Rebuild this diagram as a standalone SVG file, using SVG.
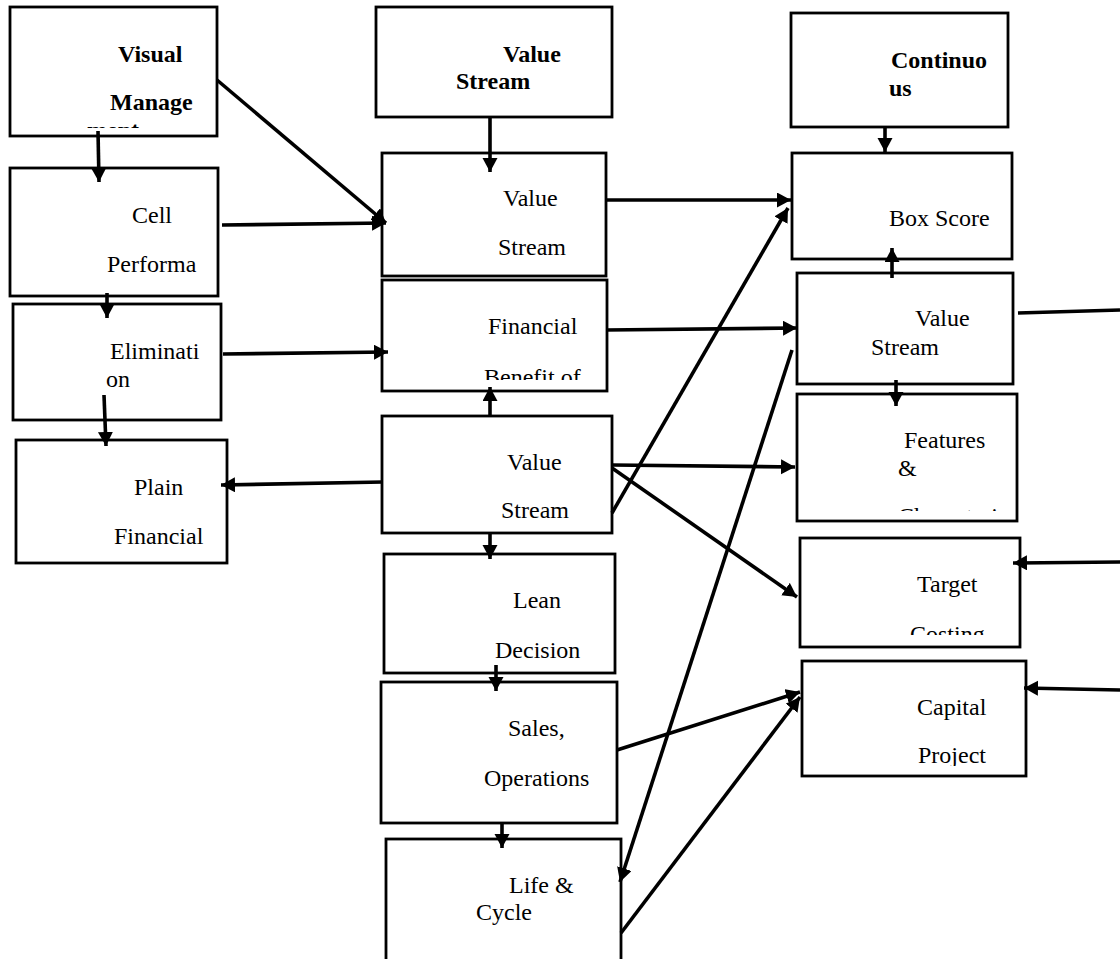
<svg xmlns="http://www.w3.org/2000/svg" width="1120" height="959" viewBox="0 0 1120 959">
<style>
.box{fill:#fff;stroke:#000;stroke-width:2.8}
.t{font-family:"Liberation Serif","Times New Roman",serif;font-size:24px;fill:#000}
.b{font-weight:bold}
.c{fill:none;stroke:#000;stroke-width:3.6}
.a{marker-end:url(#ah)}
</style>
<defs>
<marker id="ah" markerUnits="userSpaceOnUse" markerWidth="16" markerHeight="16" refX="14" refY="7.5" orient="auto">
<path d="M0,0 L14,7.5 L0,15 z" fill="#000"/>
</marker>
<clipPath id="cVM"><rect x="0" y="0" width="1120" height="128"/></clipPath>
<clipPath id="cFin"><rect x="0" y="0" width="1120" height="380"/></clipPath>
<clipPath id="cFeat"><rect x="0" y="0" width="1120" height="511"/></clipPath>
<clipPath id="cTgt"><rect x="0" y="0" width="1120" height="635"/></clipPath>
<clipPath id="cCap"><rect x="0" y="0" width="1120" height="766"/></clipPath>
</defs>
<rect width="1120" height="959" fill="#fff"/>

<g id="visual-management">
<rect class="box" x="10" y="7" width="207" height="129"/>
<text class="t b" x="118" y="62">Visual</text>
<text class="t b" x="110" y="110">Manage</text>
<text class="t b" x="87" y="138" clip-path="url(#cVM)">ment</text>
</g>
<g id="cell-performance">
<rect class="box" x="10" y="168" width="208" height="128"/>
<text class="t" x="132" y="223">Cell</text>
<text class="t" x="107" y="272">Performa</text>
</g>
<g id="elimination">
<rect class="box" x="13" y="304" width="208" height="116"/>
<text class="t" x="110" y="359">Eliminati</text>
<text class="t" x="106" y="387">on</text>
</g>
<g id="plain-financial">
<rect class="box" x="16" y="440" width="211" height="123"/>
<text class="t" x="134" y="495">Plain</text>
<text class="t" x="114" y="544">Financial</text>
</g>
<g id="value-stream-head">
<rect class="box" x="376" y="7" width="236" height="110"/>
<text class="t b" x="503" y="62">Value</text>
<text class="t b" x="456" y="89">Stream</text>
</g>
<g id="value-stream-2">
<rect class="box" x="382" y="153" width="224" height="123"/>
<text class="t" x="503" y="206">Value</text>
<text class="t" x="498" y="255">Stream</text>
</g>
<g id="financial-benefit">
<rect class="box" x="382" y="280" width="225" height="111"/>
<text class="t" x="488" y="334">Financial</text>
<text class="t" x="484" y="385" clip-path="url(#cFin)">Benefit of</text>
</g>
<g id="value-stream-mid">
<rect class="box" x="382" y="416" width="230" height="117"/>
<text class="t" x="507" y="470">Value</text>
<text class="t" x="501" y="518">Stream</text>
</g>
<g id="lean-decision">
<rect class="box" x="384" y="554" width="231" height="119"/>
<text class="t" x="513" y="608">Lean</text>
<text class="t" x="495" y="658">Decision</text>
</g>
<g id="sales-operations">
<rect class="box" x="381" y="682" width="236" height="141"/>
<text class="t" x="508" y="736">Sales,</text>
<text class="t" x="484" y="786">Operations</text>
</g>
<g id="life-cycle">
<rect class="box" x="386" y="839" width="235" height="140"/>
<text class="t" x="509" y="893">Life &amp;</text>
<text class="t" x="476" y="920">Cycle</text>
</g>
<g id="continuous">
<rect class="box" x="791" y="13" width="217" height="114"/>
<text class="t b" x="891" y="68">Continuo</text>
<text class="t b" x="889" y="96">us</text>
</g>
<g id="box-score">
<rect class="box" x="792" y="153" width="220" height="106"/>
<text class="t" x="889" y="226">Box Score</text>
</g>
<g id="value-stream-right">
<rect class="box" x="797" y="273" width="216" height="111"/>
<text class="t" x="915" y="326">Value</text>
<text class="t" x="871" y="355">Stream</text>
</g>
<g id="features">
<rect class="box" x="797" y="394" width="220" height="127"/>
<text class="t" x="904" y="448">Features</text>
<text class="t" x="898" y="476">&amp;</text>
<text class="t" x="898" y="524" clip-path="url(#cFeat)">Characteri</text>
</g>
<g id="target-costing">
<rect class="box" x="800" y="538" width="220" height="109"/>
<text class="t" x="917" y="592">Target</text>
<text class="t" x="910" y="642" clip-path="url(#cTgt)">Costing</text>
</g>
<g id="capital-project">
<rect class="box" x="802" y="661" width="224" height="115"/>
<text class="t" x="917" y="715">Capital</text>
<text class="t" x="918" y="763" clip-path="url(#cCap)">Project</text>
</g>

<g id="connectors">
<line class="c a" x1="98" y1="131" x2="99" y2="182"/>
<line class="c a" x1="217" y1="80" x2="386" y2="223"/>
<line class="c a" x1="222" y1="225" x2="386" y2="223"/>
<line class="c a" x1="107" y1="293" x2="107" y2="318"/>
<line class="c a" x1="223" y1="354" x2="388" y2="352"/>
<line class="c a" x1="104" y1="395" x2="106" y2="446"/>
<line class="c a" x1="383" y1="482" x2="221" y2="485"/>
<line class="c a" x1="490" y1="117" x2="490" y2="172"/>
<line class="c a" x1="606" y1="200" x2="791" y2="200"/>
<line class="c a" x1="606" y1="330" x2="797" y2="328"/>
<line class="c a" x1="490" y1="417" x2="490" y2="387"/>
<line class="c a" x1="612" y1="513" x2="788" y2="208"/>
<line class="c a" x1="612" y1="465" x2="795" y2="467"/>
<line class="c a" x1="612" y1="468" x2="797" y2="597"/>
<line class="c a" x1="490" y1="533" x2="490" y2="559"/>
<line class="c a" x1="496" y1="665" x2="496" y2="691"/>
<line class="c a" x1="502" y1="823" x2="502" y2="848"/>
<line class="c a" x1="885" y1="127" x2="885" y2="152"/>
<line class="c a" x1="892" y1="278" x2="892" y2="248"/>
<line class="c a" x1="896" y1="380" x2="896" y2="406"/>
<line class="c" x1="1018" y1="313" x2="1120" y2="310"/>
<line class="c a" x1="1120" y1="562" x2="1013" y2="563"/>
<line class="c a" x1="1120" y1="690" x2="1024" y2="688"/>
<line class="c a" x1="617" y1="750" x2="800" y2="692"/>
<line class="c a" x1="621" y1="933" x2="800" y2="697"/>
<line class="c a" x1="792" y1="350" x2="620" y2="882"/>
</g>
</svg>
